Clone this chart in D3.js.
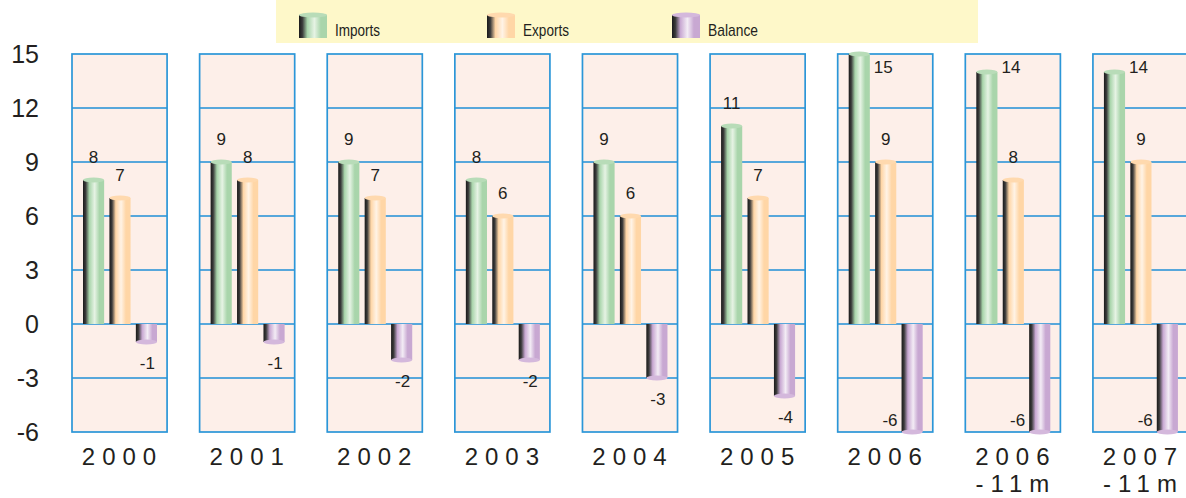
<!DOCTYPE html>
<html>
<head>
<meta charset="utf-8">
<script src="https://cdn.jsdelivr.net/npm/d3@7"></script>
<style>
  body { margin: 0; background: #fff; }
  text { font-family: "Liberation Sans", Arial, sans-serif; fill: #231f20; }
</style>
</head>
<body>
<div id="chart"></div>
<script>
// trade chart, one panel per year, cylinder bars
const categories = ["2000", "2001", "2002", "2003", "2004", "2005", "2006", "2006|-11m", "2007|-11m"];
const imports = [8, 9, 9, 8, 9, 11, 15, 14, 14];
const exportsV = [7, 8, 7, 6, 6, 7, 9, 8, 9];
const balance = [-1, -1, -2, -2, -3, -4, -6, -6, -6];
const seriesNames = ["Imports", "Exports", "Balance"];
const yTicks = [15, 12, 9, 6, 3, 0, -3, -6];

const width = 1186, height = 498;
const colors = {
  Imports: { main: "#a9d5ab", light: "#e6f3e4", top: "#b8dcb8" },
  Exports: { main: "#ffd6a6", light: "#fff3e6", top: "#ffd9ae" },
  Balance: { main: "#c8a8d2", light: "#f3ecf5", top: "#d4b8dc" }
};

let svg = d3.select("#chart").append("svg")
  .attr("width", width)
  .attr("height", height)

let defs = svg.append("defs")
seriesNames.forEach(s => {
  let g = defs.append("linearGradient").attr("id", "grad" + s)
    .attr("x1", 0).attr("x2", 1).attr("y1", 0).attr("y2", 0)
  g.append("stop").attr("offset", "0%").attr("stop-color", "#1a1a1a")
  g.append("stop").attr("offset", "12%").attr("stop-color", "#3a3a3a")
  g.append("stop").attr("offset", "30%").attr("stop-color", colors[s].main)
  g.append("stop").attr("offset", "55%").attr("stop-color", colors[s].light)
  g.append("stop").attr("offset", "78%").attr("stop-color", colors[s].main)
  g.append("stop").attr("offset", "100%").attr("stop-color", colors[s].main)
})

let y = d3.scaleLinear().domain([-6, 15]).range([432, 54])
let x = d3.scaleBand().domain(categories).range([72, 1188]).paddingInner(0.255)
let xs = d3.scaleBand().domain(seriesNames).range([11, 85]).paddingInner(0.2)

// legend
let legend = svg.append("g")
legend.append("rect")
  .attr("x", 276).attr("y", 0).attr("width", 702).attr("height", 43)
  .attr("fill", "#fef8c9")
const legendX = [299, 487, 672];
seriesNames.forEach((s, i) => {
  let lx = legendX[i]
  legend.append("rect")
    .attr("x", lx).attr("y", 15).attr("width", 28).attr("height", 23)
    .attr("fill", "url(#grad" + s + ")")
  legend.append("ellipse")
    .attr("cx", lx + 14).attr("cy", 15).attr("rx", 14).attr("ry", 2.5)
    .attr("fill", colors[s].top)
  legend.append("text")
    .attr("x", lx + 36).attr("y", 36)
    .attr("font-size", 17)
    .attr("textLength", s == "Balance" ? 50 : s == "Exports" ? 46 : 45)
    .attr("lengthAdjust", "spacingAndGlyphs")
    .text(s)
})

// y axis labels
svg.append("g").selectAll("text")
  .data(yTicks).enter().append("text")
  .attr("x", 39)
  .attr("y", d => y(d) + 9)
  .attr("text-anchor", "end")
  .attr("font-size", 25)
  .text(d => d)

// panels
let panels = svg.append("g").selectAll("g")
  .data(categories).enter().append("g")
  .attr("transform", d => "translate(" + x(d) + ",0)")

panels.append("rect")
  .attr("x", 0).attr("y", y(15))
  .attr("width", x.bandwidth()).attr("height", y(-6) - y(15))
  .attr("fill", "#fdefe9")

panels.selectAll("line")
  .data(yTicks.slice(1, -1)).enter().append("line")
  .attr("x1", 0).attr("x2", x.bandwidth())
  .attr("y1", d => y(d)).attr("y2", d => y(d))
  .attr("stroke", "#1f8fd6").attr("stroke-width", 1.5)

panels.append("rect")
  .attr("x", 0).attr("y", y(15))
  .attr("width", x.bandwidth()).attr("height", y(-6) - y(15))
  .attr("fill", "none")
  .attr("stroke", "#2b96d8").attr("stroke-width", 1.7)

// bars
const values = { Imports: imports, Exports: exportsV, Balance: balance };
panels.each(function (cat, ci) {
  let p = d3.select(this)
  seriesNames.forEach(s => {
    let v = values[s][ci]
    let bx = xs(s), bw = xs.bandwidth()
    let top = y(Math.max(v, 0)), bot = y(Math.min(v, 0))
    p.append("rect")
      .attr("x", bx).attr("y", top)
      .attr("width", bw).attr("height", bot - top)
      .attr("fill", "url(#grad" + s + ")")
    p.append("ellipse")
      .attr("cx", bx + bw / 2).attr("cy", v >= 0 ? top : bot)
      .attr("rx", bw / 2).attr("ry", 2.5)
      .attr("fill", colors[s].top)

    let lbl = p.append("text").attr("font-size", 17).text(v)
    if (v >= 14) {
      lbl.attr("x", bx + bw + 4).attr("y", y(14.5) + 10)
    } else if (v <= -5) {
      lbl.attr("x", bx - 4).attr("y", bot - 6).attr("text-anchor", "end")
    } else if (v >= 0) {
      lbl.attr("x", bx + bw / 2).attr("y", top - 17).attr("text-anchor", "middle")
    } else {
      lbl.attr("x", bx + bw / 2 + 1).attr("y", bot + 27).attr("text-anchor", "middle")
    }
  })
})

// category labels
panels.each(function (cat) {
  let lines = cat.split("|")
  let t = d3.select(this).append("text")
    .attr("text-anchor", "middle")
    .attr("font-size", 24)
    .attr("letter-spacing", 7)
  lines.forEach((ln, i) => {
    t.append("tspan")
      .attr("x", x.bandwidth() / 2 + 3)
      .attr("y", 465 + i * 27)
      .text(ln)
  })
})
</script>
</body>
</html>
